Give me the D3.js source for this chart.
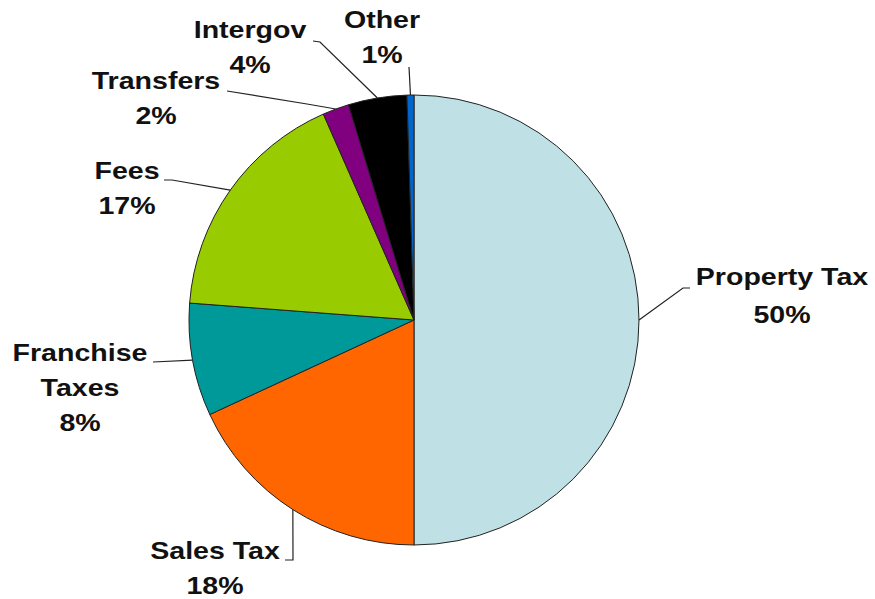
<!DOCTYPE html>
<html lang="en">
<head>
  <meta charset="UTF-8">
  <title>Revenue Sources Pie</title>
  <script src="https://d3js.org/d3.v7.min.js"></script>
  <style>
    body { margin: 0; background: #fff; }
    .lbl { font-family: "Liberation Sans", Arial, sans-serif; font-weight: bold; font-size: 24px; fill: #111; }
    .leader { fill: none; stroke: #222; stroke-width: 1.2px; }
  </style>
</head>
<body>
  <svg width="875" height="599"></svg>

  <script>
    // slice data (clockwise from 12 o'clock)
    const categories = ["Property Tax", "Sales Tax", "Franchise Taxes", "Fees", "Transfers", "Intergov", "Other"];
    const values     = [50.0, 18.1, 8.1, 17.2, 1.9, 4.2, 0.5];
    const pctLabels  = ["50%", "18%", "8%", "17%", "2%", "4%", "1%"];
    const colors     = ["#BFE1E6", "#FF6600", "#009999", "#99CC00", "#800080", "#000000", "#0066CC"];

    // label text lines, position of label block and leader bend points
    const labelLines = [
      ["Property Tax"], ["Sales Tax"], ["Franchise", "Taxes"], ["Fees"],
      ["Transfers"], ["Intergov"], ["Other"]
    ];
    const labelPos = [[782, 285], [215, 559], [80, 361], [127, 179], [156, 89], [250, 38], [382, 28]];
    const leaderPts = [
      [[690, 288], [683, 288]],
      [[285, 560], [293, 560]],
      [[153, 362]],
      [[164, 180], [172, 180]],
      [[227, 91], [307, 104]],
      [[313, 41], [320, 42]],
      [[409, 67]]
    ];

    const svg = d3.select("svg");
    const cx = 414, cy = 320, r = 225;

    const pie = d3.pie().sort(null).value(d => d)(values);
    const arc = d3.arc().innerRadius(0).outerRadius(r);

    const g = svg.append("g").attr("transform", `translate(${cx},${cy})`);
    g.selectAll("path")
      .data(pie)
      .enter().append("path")
        .attr("d", arc)
        .attr("fill", (d, i) => colors[i])
        .attr("stroke", "#222")
        .attr("stroke-width", 1);

    // leader lines from the slice mid-angle on the rim
    const line = d3.line();
    pie.forEach((d, i) => {
      const a = (d.startAngle + d.endAngle) / 2;
      const rim = [cx + r * Math.sin(a), cy - r * Math.cos(a)];
      svg.append("path")
        .attr("class", "leader")
        .attr("d", line(leaderPts[i].concat([rim])));
    });

    // labels
    const lineH = 35;
    categories.forEach((c, i) => {
      const [x, y] = labelPos[i];
      const lg = svg.append("g").attr("transform", `translate(${x},${y}) scale(1.19,1)`);
      const lines = labelLines[i].concat([pctLabels[i]]);
      lines.forEach((t, k) => {
        lg.append("text")
          .attr("class", "lbl")
          .attr("text-anchor", "middle")
          .attr("y", k * (i === 0 ? 38 : lineH))
          .text(t);
      });
    });
  </script>
</body>
</html>
